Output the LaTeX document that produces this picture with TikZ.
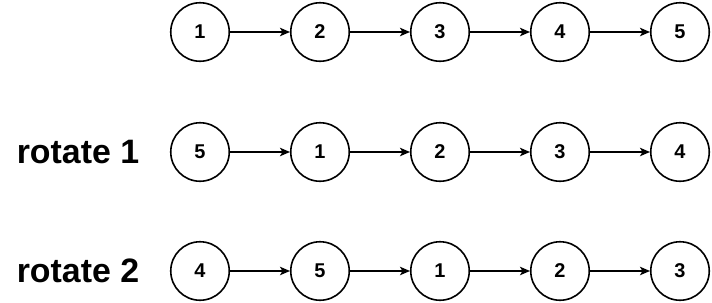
\documentclass[tikz,border=0pt]{standalone}
\usepackage{fontspec}
\setmainfont{Liberation Sans}
\usetikzlibrary{arrows.meta}
\begin{document}
\begin{tikzpicture}[x=1bp,y=-1bp,
  nd/.style={circle,draw=black,line width=1.6bp,minimum size=58.5bp,inner sep=0pt,font=\fontsize{20}{20}\selectfont\bfseries},
  lbl/.style={font=\fontsize{34}{34}\selectfont\bfseries,inner sep=0pt},
  arr/.style={-{Stealth[length=10bp,width=8.5bp,inset=2.5bp]},line width=1.3bp}]
\useasboundingbox (0,0) rectangle (712,302);
% row 1
\node[nd] (a1) at (200,32) {1};
\node[nd] (a2) at (320,32) {2};
\node[nd] (a3) at (440,32) {3};
\node[nd] (a4) at (560,32) {4};
\node[nd] (a5) at (680,32) {5};
% row 2
\node[lbl] (l1) at (78,152) {rotate 1};
\node[nd] (b1) at (200,152) {5};
\node[nd] (b2) at (320,152) {1};
\node[nd] (b3) at (440,152) {2};
\node[nd] (b4) at (560,152) {3};
\node[nd] (b5) at (680,152) {4};
% row 3
\node[lbl] (l2) at (78,271) {rotate 2};
\node[nd] (c1) at (200,271) {4};
\node[nd] (c2) at (320,271) {5};
\node[nd] (c3) at (440,271) {1};
\node[nd] (c4) at (560,271) {2};
\node[nd] (c5) at (680,271) {3};
\foreach \r in {a,b,c}{
  \draw[arr] (\r1) -- (\r2);
  \draw[arr] (\r2) -- (\r3);
  \draw[arr] (\r3) -- (\r4);
  \draw[arr] (\r4) -- (\r5);
}
\end{tikzpicture}
\end{document}
